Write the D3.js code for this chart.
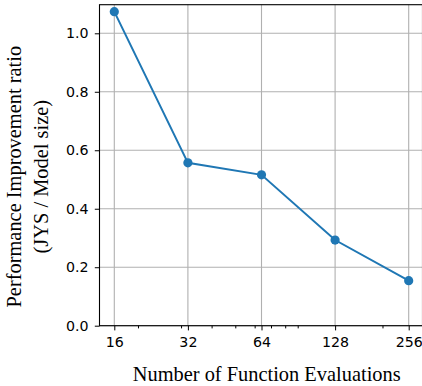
<!DOCTYPE html>
<html>
<head>
<meta charset="utf-8">
<script src="https://cdn.jsdelivr.net/npm/d3@7"></script>
<style>
  html, body { margin: 0; padding: 0; background: #fff; }
  svg { display: block; }
</style>
</head>
<body>
<svg id="chart" width="422" height="386"></svg>
<script>
// Function evaluations (log2 axis) and measured improvement ratio
const nfe = [16, 32, 64, 128, 256];
const ratio = [1.074, 0.557, 0.516, 0.293, 0.154];
const xTicks = [16, 32, 64, 128, 256];
const xMinorTicks = [20, 30, 40, 50, 60, 70, 80, 90, 200];
const yTicks = [0.0, 0.2, 0.4, 0.6, 0.8, 1.0];

const svg = d3.select("#chart");

// frame of the axes
const frame = { left: 99.5, right: 422.5, top: 4.7, bottom: 325.7 };

const x = d3.scaleLog().base(2).domain([16, 256]).range([114.3, 408.7]);
const y = d3.scaleLinear().domain([0, 1]).range([frame.bottom, 33.3]);

const grid = "#b0b0b0";
const blue = "#1f77b4";

// grid lines
svg.append("g").selectAll("line").data(xTicks).join("line")
  .attr("x1", d => x(d)).attr("x2", d => x(d))
  .attr("y1", frame.top).attr("y2", frame.bottom)
  .attr("stroke", grid).attr("stroke-width", 1.1);
svg.append("g").selectAll("line").data(yTicks).join("line")
  .attr("x1", frame.left).attr("x2", frame.right)
  .attr("y1", d => y(d)).attr("y2", d => y(d))
  .attr("stroke", grid).attr("stroke-width", 1.1);

// axes
const xAxis = d3.axisBottom(x).tickValues(xTicks).tickFormat(d3.format("d"))
  .tickSizeInner(4.7).tickSizeOuter(0).tickPadding(6.3);
const gx = svg.append("g").attr("transform", `translate(0,${frame.bottom})`).call(xAxis);
const xMinor = d3.axisBottom(x).tickValues(xMinorTicks).tickFormat("")
  .tickSizeInner(2.7).tickSizeOuter(0);
const gxm = svg.append("g").attr("transform", `translate(0,${frame.bottom})`).call(xMinor);

const yAxis = d3.axisLeft(y).tickValues(yTicks).tickFormat(d3.format(".1f"))
  .tickSizeInner(4.7).tickSizeOuter(0).tickPadding(6.3);
const gy = svg.append("g").attr("transform", `translate(${frame.left},0)`).call(yAxis);

[gx, gxm, gy].forEach(g => {
  g.select(".domain").remove();
  g.selectAll(".tick line").attr("stroke", "#000").attr("stroke-width", 1);
  g.selectAll(".tick text")
    .attr("font-family", "DejaVu Sans").attr("font-size", 14.2).attr("fill", "#000");
});

// frame
svg.append("rect")
  .attr("x", frame.left).attr("y", frame.top)
  .attr("width", frame.right - frame.left).attr("height", frame.bottom - frame.top)
  .attr("fill", "none").attr("stroke", "#000").attr("stroke-width", 1.1);

// data line and markers
const line = d3.line().x((d, i) => x(nfe[i])).y(d => y(d));
svg.append("path").datum(ratio)
  .attr("d", line).attr("fill", "none")
  .attr("stroke", blue).attr("stroke-width", 2);
svg.append("g").selectAll("circle").data(ratio).join("circle")
  .attr("cx", (d, i) => x(nfe[i])).attr("cy", d => y(d))
  .attr("r", 4.6).attr("fill", blue);

// axis titles
svg.append("text")
  .attr("x", 266.7).attr("y", 381)
  .attr("text-anchor", "middle")
  .attr("font-family", "Liberation Serif").attr("font-size", 20.4)
  .text("Number of Function Evaluations");

const yl = svg.append("text")
  .attr("transform", "translate(0,176.7) rotate(-90)")
  .attr("text-anchor", "middle")
  .attr("font-family", "Liberation Serif").attr("font-size", 20.4);
yl.append("tspan").attr("x", 0).attr("y", 21).text("Performance Improvement ratio");
yl.append("tspan").attr("x", 0).attr("y", 48).text("(JYS / Model size)");
</script>
</body>
</html>
